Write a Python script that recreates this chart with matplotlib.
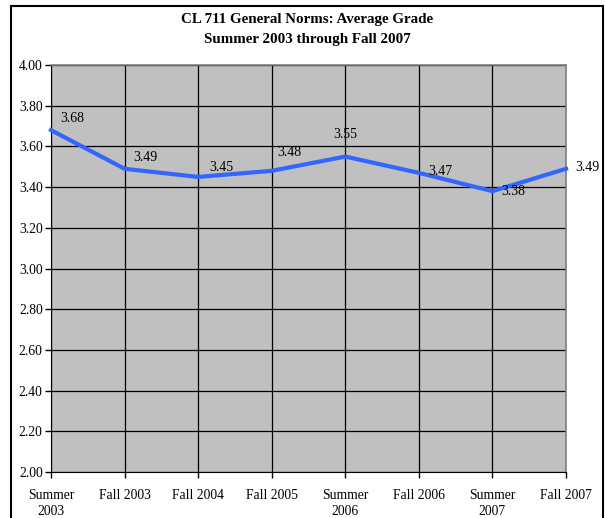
import matplotlib
matplotlib.use("Agg")
import matplotlib.pyplot as plt
from matplotlib.patches import Rectangle

categories = ["Summer\n2003", "Fall 2003", "Fall 2004", "Fall 2005",
              "Summer\n2006", "Fall 2006", "Summer\n2007", "Fall 2007"]
values = [3.68, 3.49, 3.45, 3.48, 3.55, 3.47, 3.38, 3.49]
labels = ["3.68", "3.49", "3.45", "3.48", "3.55", "3.47", "3.38", "3.49"]
yticks = [2.00, 2.20, 2.40, 2.60, 2.80, 3.00, 3.20, 3.40, 3.60, 3.80, 4.00]
title_lines = ["CL 711 General Norms: Average Grade", "Summer 2003 through Fall 2007"]
# label offsets in pixels (dx, dy) relative to each point
label_offsets = [(21, 12), (21, 11), (23, 9), (18, 18), (0, 22), (21, 1), (21, 0), (21, 1)]

plt.rcParams['font.family'] = ['Liberation Serif', 'DejaVu Serif']

W, H = 605, 518
fig = plt.figure(figsize=(W / 100, H / 100), dpi=100)

# outer border
fig.patches.append(Rectangle((11 / W, -0.05), (603 - 11) / W, 1.05 - 6 / H,
                             transform=fig.transFigure, fill=False,
                             edgecolor='black', linewidth=1.5))

left, right, top, bottom = 51, 566, 65, 472
ax = fig.add_axes([left / W, 1 - bottom / H, (right - left) / W, (bottom - top) / H])
ax.set_facecolor('#C0C0C0')
x = list(range(len(values)))
ax.set_xlim(0, len(values) - 1)
ax.set_ylim(2.0, 4.0)

for s in ['top', 'right']:
    ax.spines[s].set_color('#808080')
    ax.spines[s].set_linewidth(1.2)
ax.spines['left'].set_color('black')
ax.spines['bottom'].set_color('black')

ax.set_yticks(yticks)
ax.set_yticklabels([f"{v:.2f}" for v in yticks], fontsize=9.8)
ax.set_xticks(x)
ax.set_xticklabels(categories, fontsize=9.8, linespacing=1.35)
ax.tick_params(axis='both', direction='out', length=4, color='black', width=1)
ax.tick_params(axis='x', pad=8)
ax.tick_params(axis='y', pad=2)

ax.grid(True, color='black', linewidth=0.9)
ax.set_axisbelow(True)

ax.plot(x, values, color='#3366FF', linewidth=3, zorder=3, clip_on=False)

for xi, v, lab, (dx, dy) in zip(x, values, labels, label_offsets):
    ax.annotate(lab, (xi, v), xytext=(dx * 0.72, dy * 0.72), textcoords='offset points',
                ha='center', va='center', fontsize=10, zorder=4, annotation_clip=False)

fig.text(307 / W, 1 - 19.5 / H, title_lines[0], ha='center', va='center',
         fontsize=10.8, fontweight='bold')
fig.text(307 / W, 1 - 39.5 / H, title_lines[1], ha='center', va='center',
         fontsize=10.8, fontweight='bold')

fig.savefig("out.png", dpi=100)
